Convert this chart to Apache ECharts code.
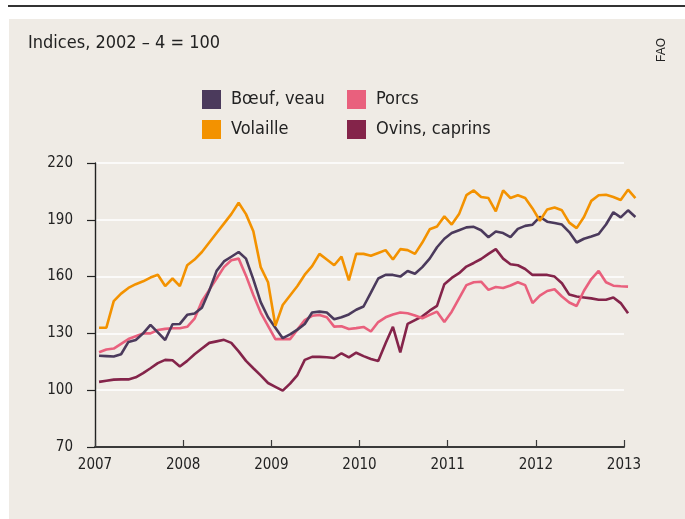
<!DOCTYPE html>
<html>
<head>
<meta charset="utf-8">
<title>Indices viande</title>
<script src="https://cdn.jsdelivr.net/npm/echarts@6/dist/echarts.min.js"></script>
<style>
	html, body { margin: 0; padding: 0; background: #ffffff; }
	#chart { width: 685px; height: 519px; }
</style>
</head>
<body>
<div id="chart"></div>
<script>
	// valeurs mensuelles, janvier 2007 -> fevrier 2013
	var yearTicks = [2007, 2008, 2009, 2010, 2011, 2012, 2013];

	var boeuf = [
		118.2, 118, 117.8, 119, 125.5, 126.5, 130, 134.5, 130.5, 126.5, 134.8, 135,
		139.8, 140.5, 143.5, 152.5, 163, 168, 170.5, 173, 169.5, 158.5, 146.5, 138.5,
		133, 127.5, 129.5, 132, 135, 141, 141.5, 141, 137.5, 138.5, 140, 142.5,
		144.2, 151.5, 159, 160.9, 160.9, 160, 163, 161.5, 165, 169.5, 175.5, 180,
		183, 184.5, 186, 186.3, 184.5, 180.8, 183.8, 183, 180.8, 185.2, 186.8, 187.4,
		191.5, 189, 188.3, 187.5, 183.5, 178, 180, 181.2, 182.5, 187.5, 194, 191.3,
		195, 191.5
	];
	var volaille = [
		133, 133, 147, 151, 154, 156, 157.5, 159.5, 161, 155, 159, 155,
		166, 169, 173, 178, 183, 188, 193, 199, 193, 184, 165, 157,
		134, 145, 150, 155, 161, 165.5, 172, 169, 166, 170.5, 158, 172,
		172, 171, 172.5, 174, 169, 174.5, 174, 172, 178, 185, 186.5, 191.8,
		187.5, 193, 203, 205.5, 202, 201.5, 194.5, 205.5, 201.5, 203, 201.5, 196,
		189.5, 195.5, 196.5, 195, 188.5, 185.6, 191.5, 200, 203, 203.2, 202, 200.5,
		205.9, 201.5
	];
	var porcs = [
		120, 121.5, 122, 124.5, 127, 128.5, 130, 130, 131.8, 132.4, 132.7, 132.7,
		133.5, 137.8, 147, 153, 159, 165, 168.6, 169.5, 160.5, 150.3, 141, 134,
		127, 127, 127, 132, 137, 139.3, 139.7, 138.5, 133.6, 133.8, 132.3, 132.8,
		133.4, 131, 136, 138.5, 140, 141, 140.6, 139.5, 138, 139.8, 141.5, 136,
		141.5, 148.5, 155.5, 157, 157.3, 153, 154.5, 154, 155.3, 157, 155.5, 146,
		150, 152.4, 153.3, 149.5, 146.3, 144.5, 152.5, 158.7, 163, 157, 155.2, 154.9,
		154.7
	];
	var ovins = [
		104.4, 105, 105.6, 105.7, 105.7, 106.8, 109, 111.6, 114.3, 116, 115.8, 112.5,
		115.5, 119, 122, 125, 125.8, 126.6, 125, 120.5, 115.5, 111.6, 107.8, 103.8,
		101.8, 99.8, 103.5, 108, 116, 117.6, 117.6, 117.4, 117, 119.5, 117.3, 119.8,
		118, 116.5, 115.4, 124.8, 133.5, 120, 135, 137, 139, 142, 144.5, 156,
		159.3, 161.8, 165.3, 167.2, 169.3, 172, 174.5, 169.5, 166.5, 166, 164, 160.9,
		160.9, 160.9, 160, 156.5, 150.5, 149.5, 149, 148.5, 147.8, 147.8, 149, 146,
		140.6
	];

	var police = '"Liberation Sans Narrow", "DejaVu Sans Condensed", "Roboto", sans-serif';

	// position du mois i sur l'axe des annees
	function monthX(i) {
		return 2007 + (i + 0.55) / 12;
	}
	function toPoints(values) {
		var pts = [];
		for (var i = 0; i < values.length; i++) {
			pts.push([monthX(i), values[i]]);
		}
		return pts;
	}
	function makeSeries(name, values, color) {
		return {
			name: name,
			type: 'line',
			xAxisIndex: 1,
			yAxisIndex: 1,
			data: toPoints(values),
			symbol: 'none',
			itemStyle: { color: color },
			lineStyle: { color: color, width: 2.6 }
		};
	}

	var legendBase = {
		orient: 'vertical',
		icon: 'rect',
		itemWidth: 19,
		itemHeight: 19,
		itemGap: 11,
		top: 90,
		padding: 0,
		selectedMode: false,
		textStyle: { fontFamily: police, fontSize: 18, color: '#222', padding: [0, 0, 0, 5] }
	};

	// la 2e grille depasse 2013 de 11 px pour laisser voir fevrier 2013
	var extraYear = 11 / 88.17;

	var myChart = echarts.init(document.getElementById('chart'));
	var option = {
		backgroundColor: '#efebe5',
		animation: false,
		title: {
			text: 'Indices, 2002 – 4 = 100',
			left: 28,
			top: 34,
			padding: 0,
			textStyle: { fontFamily: police, fontSize: 18, fontWeight: 'normal', color: '#222' }
		},
		legend: [
			echarts.util.extend({ left: 202, data: ['Bœuf, veau', 'Volaille'] }, legendBase),
			echarts.util.extend({ left: 347, data: ['Porcs', 'Ovins, caprins'] }, legendBase)
		],
		graphic: [
			{ type: 'rect', shape: { x: 0, y: 0, width: 685, height: 19 }, style: { fill: '#ffffff' }, silent: true },
			{ type: 'rect', shape: { x: 0, y: 0, width: 9, height: 519 }, style: { fill: '#ffffff' }, silent: true },
			{ type: 'rect', shape: { x: 8, y: 5, width: 677, height: 2 }, style: { fill: '#333333' }, silent: true },
			{
				type: 'text', x: 662, y: 50, rotation: Math.PI / 2,
				style: { text: 'FAO', fill: '#222', font: '12px "Liberation Sans", Arial, sans-serif', textAlign: 'center', textVerticalAlign: 'middle' },
				silent: true
			}
		],
		grid: [
			{ left: 95, right: 61, top: 163, bottom: 72, containLabel: false },
			{ left: 95, right: 50, top: 163, bottom: 72, containLabel: false }
		],
		xAxis: [{
			type: 'value',
			gridIndex: 0,
			min: 2007,
			max: 2013,
			interval: 1,
			axisLine: { show: true, lineStyle: { color: '#3a3a3a', width: 2 } },
			axisTick: { show: true, inside: true, length: 7, lineStyle: { color: '#3a3a3a', width: 1.2 } },
			axisLabel: {
				margin: 11,
				fontFamily: police,
				fontSize: 15,
				color: '#222',
				formatter: function(v) { return yearTicks.indexOf(v) >= 0 ? String(v) : ''; }
			},
			splitLine: { show: false }
		}, {
			type: 'value',
			gridIndex: 1,
			min: 2007,
			max: 2013 + extraYear,
			show: false
		}],
		yAxis: [{
			type: 'value',
			gridIndex: 0,
			min: 70,
			max: 220,
			interval: 30,
			axisLine: { show: true, lineStyle: { color: '#222', width: 1.4 } },
			axisTick: { show: true, inside: false, length: 8, lineStyle: { color: '#222', width: 1.2 } },
			axisLabel: { margin: 22, fontFamily: police, fontSize: 15, color: '#222' },
			splitLine: { show: true, lineStyle: { color: '#ffffff', width: 1.5 } }
		}, {
			type: 'value',
			gridIndex: 1,
			min: 70,
			max: 220,
			show: false
		}],
		series: [
			makeSeries('Ovins, caprins', ovins, '#84244a'),
			makeSeries('Porcs', porcs, '#e9607d'),
			makeSeries('Bœuf, veau', boeuf, '#4b3a5c'),
			makeSeries('Volaille', volaille, '#f39200')
		]
	};
	myChart.setOption(option);
	window.addEventListener("resize", function () {
		myChart.resize();
	});
</script>
</body>
</html>
